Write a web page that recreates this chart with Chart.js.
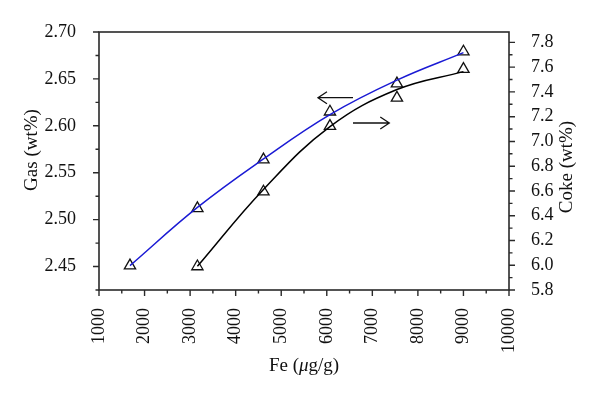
<!DOCTYPE html>
<html><head><meta charset="utf-8">
<script src="https://cdn.jsdelivr.net/npm/chart.js@4"></script>
<style>html,body{margin:0;padding:0;background:#fff}#w{width:600px;height:398px}</style>
</head><body><div id="w"><canvas id="c" width="600" height="398"></canvas></div>
<script>
// ---- data ----
const feGas = [1680, 3160, 4610, 6070, 7540, 9000];
const gasValues = [2.451, 2.512, 2.564, 2.615, 2.645, 2.679];   // measured points
const gasCurve = [2.451, 2.513, 2.5647, 2.612, 2.6487, 2.678];  // fitted curve as read at the same Fe
const feCoke = [3160, 4610, 6070, 7540, 9000];
const cokeValues = [5.99, 6.594, 7.124, 7.352, 7.584];          // measured points
const cokeCurve = [5.991, 6.612, 7.120, 7.419, 7.564];          // fitted curve as read at the same Fe
const xTicks = [1000, 2000, 3000, 4000, 5000, 6000, 7000, 8000, 9000, 10000];
const gasTicks = [2.45, 2.50, 2.55, 2.60, 2.65, 2.70];
const cokeTicks = [5.8, 6.0, 6.2, 6.4, 6.6, 6.8, 7.0, 7.2, 7.4, 7.6, 7.8];
// annotation arrows: [fromFe, toFe, gasLevel]
const arrows = [[6575, 5807, 2.630], [6575, 7372, 2.603]];

const SERIF = '"Liberation Serif", "DejaVu Serif", serif';
const AX = '#2a2a2a';
const TXT = '#111';

const decor = {
  id: 'decor',
  afterDatasetsDraw(chart) {
    const {ctx, chartArea: a, scales} = chart;
    const x = scales.x, yl = scales.y, yr = scales.y2;
    ctx.save();
    ctx.strokeStyle = AX; ctx.lineWidth = 1.6;
    ctx.strokeRect(a.left, a.top, a.right - a.left, a.bottom - a.top);
    ctx.lineWidth = 1.4;
    ctx.beginPath();
    for (let i = 0; i < xTicks.length; i++) {
      const px = x.getPixelForValue(xTicks[i]);
      ctx.moveTo(px, a.bottom); ctx.lineTo(px, a.bottom + 6);
      if (i < xTicks.length - 1) {
        const pm = x.getPixelForValue((xTicks[i] + xTicks[i + 1]) / 2);
        ctx.moveTo(pm, a.bottom); ctx.lineTo(pm, a.bottom + 3.5);
      }
    }
    for (let i = 0; i < gasTicks.length; i++) {
      const py = yl.getPixelForValue(gasTicks[i]);
      ctx.moveTo(a.left, py); ctx.lineTo(a.left - 6, py);
      const pm = yl.getPixelForValue(gasTicks[i] - 0.025);
      ctx.moveTo(a.left, pm); ctx.lineTo(a.left - 3.5, pm);
    }
    for (let i = 0; i < cokeTicks.length; i++) {
      const py = yr.getPixelForValue(cokeTicks[i]);
      ctx.moveTo(a.right, py); ctx.lineTo(a.right + 6, py);
      if (i < cokeTicks.length - 1) {
        const pm = yr.getPixelForValue(cokeTicks[i] + 0.1);
        ctx.moveTo(a.right, pm); ctx.lineTo(a.right + 3.5, pm);
      }
    }
    ctx.stroke();
    ctx.strokeStyle = '#111'; ctx.lineWidth = 1.3;
    arrows.forEach(([fx, tx, gy]) => {
      const x0 = x.getPixelForValue(fx), x1 = x.getPixelForValue(tx), py = yl.getPixelForValue(gy);
      const d = Math.sign(x1 - x0);
      ctx.beginPath();
      ctx.moveTo(x0, py); ctx.lineTo(x1, py);
      ctx.moveTo(x1 - d * 9, py - 6); ctx.lineTo(x1, py); ctx.lineTo(x1 - d * 9, py + 6);
      ctx.stroke();
    });
    ctx.fillStyle = TXT;
    ctx.font = '19px ' + SERIF;
    ctx.textAlign = 'center'; ctx.textBaseline = 'middle';
    ctx.save(); ctx.translate(32, 150); ctx.rotate(-Math.PI / 2);
    ctx.fillText('Gas (wt%)', 0, 0); ctx.restore();
    ctx.save(); ctx.translate(567, 167); ctx.rotate(-Math.PI / 2);
    ctx.fillText('Coke (wt%)', 0, 0); ctx.restore();
    const parts = [['Fe (', '19px ' + SERIF], ['μ', 'italic 19px ' + SERIF], ['g/g)', '19px ' + SERIF]];
    let tw = 0;
    parts.forEach(p => { ctx.font = p[1]; tw += ctx.measureText(p[0]).width; });
    let cx = 304 - tw / 2;
    ctx.textAlign = 'left';
    parts.forEach(p => { ctx.font = p[1]; ctx.fillText(p[0], cx, 366); cx += ctx.measureText(p[0]).width; });
    ctx.restore();
  }
};

const marker = {showLine: false, pointStyle: 'triangle', pointRadius: 6.5, pointBorderColor: '#111',
  pointBorderWidth: 1.3, pointBackgroundColor: 'rgba(0,0,0,0)', borderWidth: 0};
const curve = {pointRadius: 0, borderWidth: 1.5, tension: 0.4, fill: false};
const tickFont = {family: SERIF, size: 18};
new Chart(document.getElementById('c'), {
  type: 'line',
  data: {
    datasets: [
      Object.assign({label: 'Gas fit', data: feGas.map((v, i) => ({x: v, y: gasCurve[i]})), yAxisID: 'y',
        borderColor: '#1a1ad4'}, curve),
      Object.assign({label: 'Coke fit', data: feCoke.map((v, i) => ({x: v, y: cokeCurve[i]})), yAxisID: 'y2',
        borderColor: '#000'}, curve),
      Object.assign({label: 'Gas', data: feGas.map((v, i) => ({x: v, y: gasValues[i]})), yAxisID: 'y'}, marker),
      Object.assign({label: 'Coke', data: feCoke.map((v, i) => ({x: v, y: cokeValues[i]})), yAxisID: 'y2'}, marker)
    ]
  },
  options: {
    responsive: false, animation: false,
    layout: {padding: {top: 32, left: 0, right: 0, bottom: 0}},
    plugins: {legend: {display: false}, tooltip: {enabled: false}},
    scales: {
      x: {type: 'linear', min: 1000, max: 10000,
          afterBuildTicks: s => { s.ticks = xTicks.map(v => ({value: v})); },
          afterFit: s => { s.height = 108; },
          grid: {display: false}, border: {display: false},
          ticks: {font: tickFont, color: TXT, minRotation: 90, maxRotation: 90, padding: 10,
                  callback: v => String(v)}},
      y: {type: 'linear', position: 'left', min: 2.425, max: 2.70,
          afterBuildTicks: s => { s.ticks = gasTicks.map(v => ({value: v})); },
          afterFit: s => { s.width = 99; },
          grid: {display: false}, border: {display: false},
          ticks: {font: tickFont, color: TXT, padding: 15, callback: v => Number(v).toFixed(2)}},
      y2: {type: 'linear', position: 'right', min: 5.8, max: 7.884,
          afterBuildTicks: s => { s.ticks = cokeTicks.map(v => ({value: v})); },
          afterFit: s => { s.width = 91; },
          grid: {display: false}, border: {display: false},
          ticks: {font: tickFont, color: TXT, padding: 14, callback: v => Number(v).toFixed(1)}}
    }
  },
  plugins: [decor]
});
</script>
</body></html>
